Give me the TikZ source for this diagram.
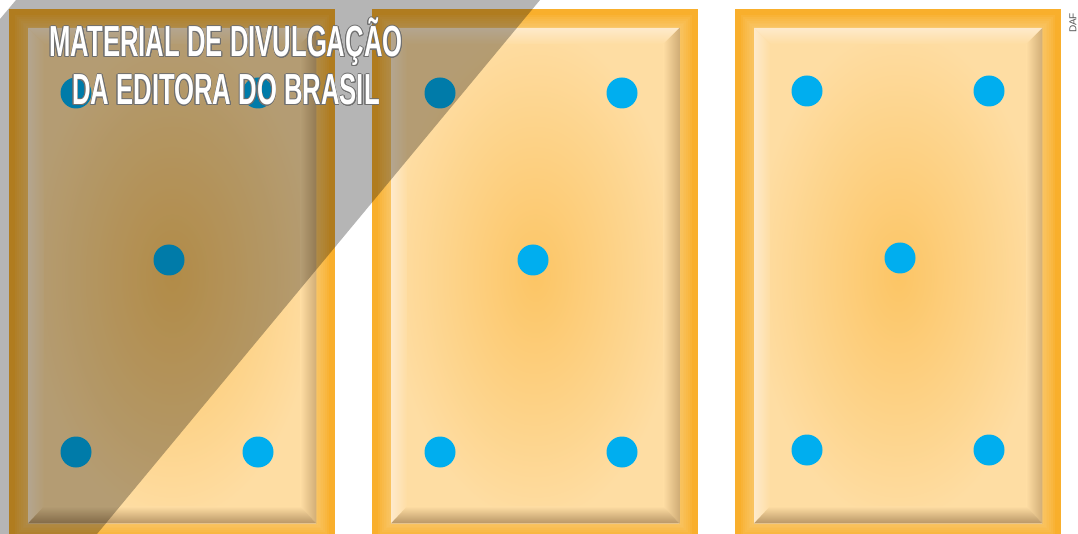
\documentclass[tikz,border=0pt]{standalone}
\usepackage{fontspec}
\usepackage{graphicx}
\usepackage{contour}
\setmainfont{Liberation Sans}
\usetikzlibrary{positioning, calc}
\definecolor{frameorange}{HTML}{F9AF2C}
\definecolor{glowline}{HTML}{FDD27F}
\definecolor{panelmid}{HTML}{FCC565}
\definecolor{paneledge}{HTML}{FEDDA3}
\definecolor{bevellight}{HTML}{FEEACB}
\definecolor{beveldark}{HTML}{B89666}
\definecolor{bevelside}{HTML}{D0AD76}
\definecolor{pipblue}{HTML}{00AEEF}
\definecolor{bandgray}{HTML}{B5B5B5}
\definecolor{stampedge}{HTML}{707070}
\definecolor{credittext}{HTML}{555555}
\contourlength{1pt}
\tikzset{
    dominoframe/.style={rectangle, fill=frameorange, minimum width=326pt, minimum height=533pt, inner sep=0pt, anchor=north west},
    panel/.style={rectangle, inner color=panelmid, outer color=paneledge, minimum width=288pt, minimum height=495pt, inner sep=0pt, anchor=north west},
    pip/.style={circle, fill=pipblue, minimum size=31pt, inner sep=0pt},
    stamptext/.style={text=white, align=center, inner sep=0pt, anchor=base, font=\fontsize{43.5}{48}\selectfont\bfseries},
    credit/.style={text=credittext, rotate=90, inner sep=0pt, font=\fontsize{10}{12}\selectfont}
}

\begin{document}
\begin{tikzpicture}[x=1pt, y=-1pt]
    \useasboundingbox (0,0) rectangle (1078,534);
    \clip (0,0) rectangle (1078,534);

    % the three dominoes
    \foreach \n/\x/\px/\dy in {1/9/76/0, 2/372/440/0, 3/735/807/-2} {
        \node (card\n) [dominoframe] at (\x,9) {};
        \foreach \g in {1,...,7}
            \fill [glowline, opacity=0.14] ($(\x+19,28)+(-\g*1.8,-\g*1.8)$) rectangle ($(\x+307,523)+(\g*1.8,\g*1.8)$);
        \node (panel\n) [panel] at (\x+19,28) {};
        % bevel
        \shade [top color=bevellight, bottom color=paneledge] (panel\n.north west) -- (panel\n.north east) -- ($(panel\n.north east)+(-16,16)$) -- ($(panel\n.north west)+(16,16)$) -- cycle;
        \shade [left color=bevellight, right color=paneledge] (panel\n.north west) -- ($(panel\n.north west)+(16,16)$) -- ($(panel\n.south west)+(16,-16)$) -- (panel\n.south west) -- cycle;
        \shade [left color=paneledge, right color=bevelside] (panel\n.north east) -- ($(panel\n.north east)+(-16,16)$) -- ($(panel\n.south east)+(-16,-16)$) -- (panel\n.south east) -- cycle;
        \shade [top color=paneledge, bottom color=beveldark] (panel\n.south west) -- ($(panel\n.south west)+(16,-17)$) -- ($(panel\n.south east)+(-16,-17)$) -- (panel\n.south east) -- cycle;
        % pips
        \node (pip\n-nw) [pip] at (\px,93+\dy) {};
        \node (pip\n-ne) [pip] at (\px+182,93+\dy) {};
        \node (pip\n-c) [pip] at (\px+93,260+\dy) {};
        \node (pip\n-sw) [pip] at (\px,452+\dy) {};
        \node (pip\n-se) [pip] at (\px+182,452+\dy) {};
    }

    % watermark band
    \fill [bandgray, blend mode=multiply] (16,0) -- (540,0) -- (97,534) -- (0,534) -- (0,19) -- cycle;
    \node (notice) [stamptext] at (226,105) {\scalebox{0.59}[1]{\contour{stampedge}{MATERIAL DE DIVULGAÇÃO}}\\ \scalebox{0.59}[1]{\contour{stampedge}{DA EDITORA DO BRASIL}}};

    \node (daf) [credit] at (1073,23) {DAF};
\end{tikzpicture}
\end{document}
